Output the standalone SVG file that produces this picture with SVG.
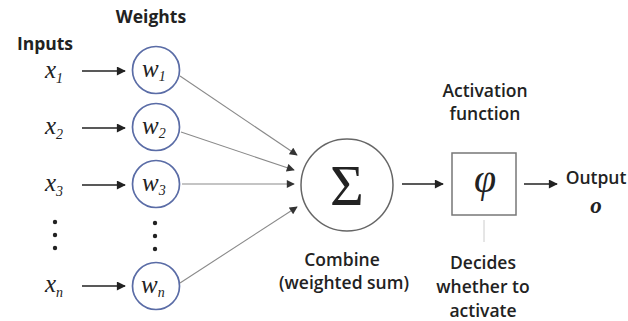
<svg xmlns="http://www.w3.org/2000/svg" width="628" height="321" viewBox="0 0 628 321">
<defs>
<marker id="ah" viewBox="0 0 10 10" refX="9" refY="5" markerWidth="10" markerHeight="9" markerUnits="userSpaceOnUse" orient="auto">
<path d="M0,0 L10,5 L0,10 z" fill="#222"/>
</marker>
<marker id="ahs" viewBox="0 0 10 10" refX="9" refY="5" markerWidth="9" markerHeight="8" markerUnits="userSpaceOnUse" orient="auto">
<path d="M0,0 L10,5 L0,10 z" fill="#333"/>
</marker>
</defs>
<style>
.lbl{font-family:"Open Sans","Liberation Sans",sans-serif;fill:#222;font-size:17.5px;font-weight:600;text-anchor:middle}
.hd{font-weight:700}
.math{font-family:"Liberation Serif","DejaVu Serif",serif;font-style:italic;fill:#222}
.wc{fill:#fff;stroke:#5a6ca6;stroke-width:1.7}
.inarr{stroke:#222;stroke-width:1.7;fill:none}
.conn{stroke:#8a8a8a;stroke-width:1.1;fill:none}
.dot{fill:#222}
</style>
<rect width="628" height="321" fill="#fff"/>
<text class="lbl hd" x="151" y="23">Weights</text>
<text class="lbl hd" x="45" y="50">Inputs</text>

<g id="inputs">
<text class="math" x="45" y="78" font-size="25">x<tspan font-size="14" dy="5">1</tspan></text>
<text class="math" x="45" y="134" font-size="25">x<tspan font-size="14" dy="5">2</tspan></text>
<text class="math" x="45" y="191" font-size="25">x<tspan font-size="14" dy="5">3</tspan></text>
<text class="math" x="45" y="292" font-size="25">x<tspan font-size="14" dy="5">n</tspan></text>
<circle class="dot" cx="55" cy="222" r="2.2"/>
<circle class="dot" cx="55" cy="235" r="2.2"/>
<circle class="dot" cx="55" cy="248" r="2.2"/>
</g>

<g id="w1"><circle class="wc" cx="156" cy="70" r="23.5"/><text class="math" x="142" y="77" font-size="25">w<tspan font-size="14" dy="4">1</tspan></text></g>
<g id="w2"><circle class="wc" cx="156" cy="127" r="23.5"/><text class="math" x="142" y="134" font-size="25">w<tspan font-size="14" dy="4">2</tspan></text></g>
<g id="w3"><circle class="wc" cx="156" cy="184" r="23.5"/><text class="math" x="142" y="191" font-size="25">w<tspan font-size="14" dy="4">3</tspan></text></g>
<g id="wdots">
<circle class="dot" cx="155" cy="223" r="2.2"/>
<circle class="dot" cx="155" cy="236" r="2.2"/>
<circle class="dot" cx="155" cy="249" r="2.2"/>
</g>
<g id="wn"><circle class="wc" cx="156" cy="286" r="23.5"/><text class="math" x="141" y="293" font-size="25">w<tspan font-size="14" dy="4">n</tspan></text></g>

<g id="sum">
<circle cx="347" cy="185" r="46" fill="#fff" stroke="#666" stroke-width="1.5"/>
<text x="347" y="205" text-anchor="middle" font-family="Liberation Serif,DejaVu Serif,serif" font-size="58" fill="#222">Σ</text>
<text class="lbl" x="342" y="266">Combine</text>
<text class="lbl" x="344" y="289">(weighted sum)</text>
</g>

<g id="activation">
<text class="lbl" x="485" y="97">Activation</text>
<text class="lbl" x="485" y="120">function</text>
<rect x="452" y="153" width="64" height="62" fill="#fff" stroke="#777" stroke-width="1.5"/>
<text class="math" x="485" y="192" text-anchor="middle" font-size="40">φ</text>
<text class="lbl" x="483" y="269">Decides</text>
<text class="lbl" x="483" y="293">whether to</text>
<text class="lbl" x="483" y="317">activate</text>
</g>

<g id="output">
<text class="lbl" x="596" y="184">Output</text>
<text class="math" x="596" y="213" text-anchor="middle" font-size="23" font-weight="bold">o</text>
</g>

<g id="connectors">
<line class="inarr" x1="82" y1="71" x2="125" y2="71" marker-end="url(#ah)"/>
<line class="inarr" x1="82" y1="128" x2="125" y2="128" marker-end="url(#ah)"/>
<line class="inarr" x1="82" y1="185" x2="125" y2="185" marker-end="url(#ah)"/>
<line class="inarr" x1="82" y1="286" x2="125" y2="286" marker-end="url(#ah)"/>
<line class="conn" x1="180" y1="76" x2="297" y2="155" marker-end="url(#ahs)"/>
<line class="conn" x1="181" y1="132" x2="294" y2="170" marker-end="url(#ahs)"/>
<line class="conn" x1="182" y1="184" x2="294" y2="184" marker-end="url(#ahs)"/>
<line class="conn" x1="180" y1="283" x2="297" y2="207" marker-end="url(#ahs)"/>
<line class="inarr" x1="402" y1="184" x2="443" y2="184" marker-end="url(#ah)"/>
<line class="inarr" x1="524" y1="184" x2="557" y2="184" marker-end="url(#ah)"/>
<line stroke="#ccc" stroke-width="1" x1="484" y1="220" x2="484" y2="242"/>
</g>
</svg>
